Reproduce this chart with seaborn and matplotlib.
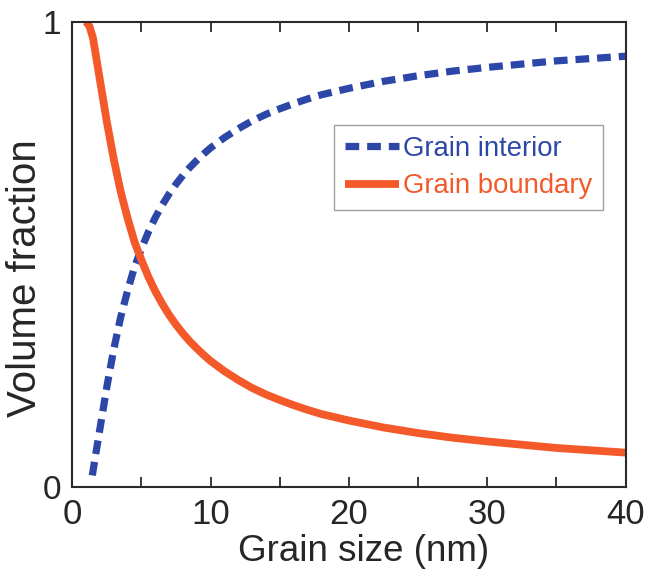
import matplotlib
matplotlib.use("Agg")
import matplotlib.pyplot as plt
import seaborn as sns
import pandas as pd

# Grain-boundary volume fraction vs. grain size (nm)
gb_size = [1.0, 1.25, 1.5, 2.0, 2.5, 3.0, 3.5, 4.0, 4.5, 5.0, 5.5, 6.0, 6.5, 7.0, 7.5,
           8.0, 8.5, 9.0, 9.5, 10.0, 11.0, 12.0, 13.0, 14.0, 15.0, 16.0, 17.0, 18.0,
           19.0, 20.0, 22.5, 25.0, 27.5, 30.0, 32.5, 35.0, 37.5, 40.0]
gb_frac = [1.000, 0.990, 0.965, 0.875, 0.785, 0.705, 0.635, 0.578, 0.527, 0.488, 0.452,
           0.421, 0.394, 0.370, 0.349, 0.330, 0.313, 0.298, 0.284, 0.271, 0.249, 0.230,
           0.213, 0.199, 0.187, 0.176, 0.166, 0.157, 0.150, 0.143, 0.128, 0.116, 0.106,
           0.098, 0.091, 0.084, 0.079, 0.074]

# Grain-interior volume fraction vs. grain size (nm)
gi_size = [1.45, 1.75, 2.0, 2.5, 3.0, 3.5, 4.0, 4.5, 5.0, 5.5, 6.0, 6.5, 7.0, 7.5, 8.0,
           8.5, 9.0, 9.5, 10.0, 11.0, 12.0, 13.0, 14.0, 15.0, 16.0, 17.0, 18.0, 19.0,
           20.0, 22.5, 25.0, 27.5, 30.0, 32.5, 35.0, 37.5, 40.0]
gi_frac = [0.025, 0.080, 0.125, 0.215, 0.296, 0.365, 0.422, 0.473, 0.512, 0.548, 0.579,
           0.606, 0.630, 0.651, 0.670, 0.687, 0.702, 0.716, 0.729, 0.751, 0.770, 0.787,
           0.801, 0.813, 0.824, 0.834, 0.843, 0.850, 0.857, 0.872, 0.884, 0.894, 0.902,
           0.909, 0.916, 0.921, 0.926]

x_ticks = [0, 5, 10, 15, 20, 25, 30, 35, 40]
x_tick_labels = ["0", "", "10", "", "20", "", "30", "", "40"]
y_ticks = [0, 1]
y_tick_labels = ["0", "1"]

series_names = ["Grain interior", "Grain boundary"]
blue = "#2c47a8"
orange = "#f4592a"
frame_color = "#2a2a2a"

sns.set_style("ticks")
plt.rcParams["font.family"] = ["Liberation Sans", "DejaVu Sans"]

fig = plt.figure(figsize=(6.45, 5.73), dpi=100)
ax = fig.add_axes([0.112, 0.150, 0.858, 0.812])

gi = pd.DataFrame({"size": gi_size, "frac": gi_frac})
gb = pd.DataFrame({"size": gb_size, "frac": gb_frac})

sns.lineplot(data=gi, x="size", y="frac", ax=ax, color=blue, lw=5.2,
             label=series_names[0], sort=True)
ax.lines[-1].set_dashes((1.9, 1.1))
ax.lines[-1].set_dash_capstyle("butt")
sns.lineplot(data=gb, x="size", y="frac", ax=ax, color=orange, lw=5.6,
             label=series_names[1], sort=True)
ax.lines[-1].set_solid_capstyle("butt")
ax.lines[-1].set_solid_joinstyle("round")

ax.set_xlim(0, 40)
ax.set_ylim(0, 1)
ax.set_xticks(x_ticks)
ax.set_xticklabels(x_tick_labels)
ax.set_yticks(y_ticks)
ax.set_yticklabels(y_tick_labels)

ax.tick_params(axis="x", direction="in", length=7, width=1.3, top=True,
               labelsize=25, pad=8, color=frame_color)
ax.tick_params(axis="y", length=0, labelsize=24, pad=8)

for side in ["left", "right", "top", "bottom"]:
    ax.spines[side].set_visible(True)
    ax.spines[side].set_linewidth(1.5)
    ax.spines[side].set_color(frame_color)

ax.set_xlabel("Grain size (nm)", fontsize=26.5)
ax.xaxis.set_label_coords(0.527, -0.138)
ax.xaxis.label.set_va("center")

ax.set_ylabel("Volume fraction", fontsize=29)
ax.yaxis.set_label_coords(-0.085, 0.45)
ax.yaxis.label.set_va("center")

leg = ax.legend(loc="upper left", bbox_to_anchor=(0.473, 0.779), fontsize=19.8,
                frameon=True, fancybox=False, edgecolor="#8a8a8a",
                handlelength=1.95, handletextpad=0.15, borderpad=0.4,
                borderaxespad=0.0, labelspacing=0.42)
leg.get_frame().set_linewidth(1.0)
for txt, col in zip(leg.get_texts(), [blue, orange]):
    txt.set_color(col)

fig.savefig("out.png", dpi=100)
